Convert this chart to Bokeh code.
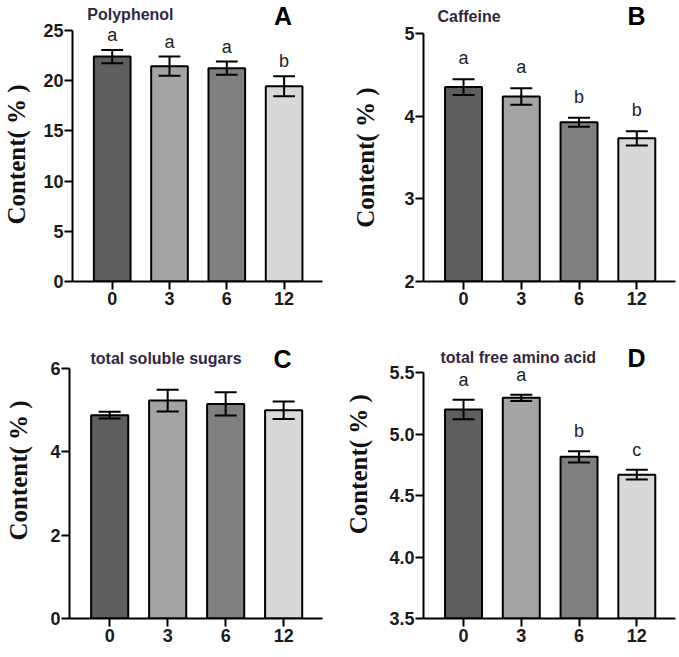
from bokeh.plotting import figure
from bokeh.models import Range1d, FixedTicker, Label, NumeralTickFormatter
from bokeh.layouts import row, column
from bokeh.embed import file_html
from bokeh.resources import INLINE
from bokeh.core.properties import value

# ---------------- data ----------------
categories = ["0", "3", "6", "12"]
bar_colors = ["#5e5e5e", "#a4a4a4", "#7f7f7f", "#d8d8d8"]

poly_mean = [22.4, 21.45, 21.25, 19.45]
poly_err = [0.65, 0.95, 0.65, 1.0]
poly_sig = ["a", "a", "a", "b"]

caf_mean = [4.35, 4.235, 3.925, 3.73]
caf_err = [0.095, 0.1, 0.055, 0.085]
caf_sig = ["a", "a", "b", "b"]

sug_mean = [4.88, 5.23, 5.15, 5.0]
sug_err = [0.08, 0.26, 0.28, 0.21]
sug_sig = ["", "", "", ""]

aa_mean = [5.2, 5.295, 4.815, 4.67]
aa_err = [0.08, 0.025, 0.045, 0.04]
aa_sig = ["a", "a", "b", "c"]

poly_ticks = [0, 5, 10, 15, 20, 25]
caf_ticks = [2, 3, 4, 5]
sug_ticks = [0, 2, 4, 6]
aa_ticks = [3.5, 4.0, 4.5, 5.0, 5.5]

TITLE_COLOR = "#30283f"
NB = "\u00a0"


def make_panel(mean, err, sig, y0, y1, yticks, fmt, title, letter,
               origin, size, frame_box, lab_standoff, ylabel, sig_gap,
               title_pos, letter_pos):
    ox, oy = origin
    W, H = size
    fl, fr, ft, fb = frame_box          # axis geometry in page pixels
    top_pad = 2                          # frame reaches nearly to the top
    frame_top = oy + top_pad
    bl, br, bb = fl - ox, ox + W - fr, oy + H - fb
    ppy = (fb - ft) / (y1 - y0)
    y_end = y1 + (ft - frame_top) / ppy
    xr = Range1d(-0.693, 3.67)
    yr = Range1d(y0, y_end)
    p = figure(width=W, height=H, x_range=xr, y_range=yr,
               output_backend="svg", toolbar_location=None,
               min_border_left=bl, min_border_right=br,
               min_border_top=top_pad, min_border_bottom=bb)
    p.outline_line_color = None
    p.xgrid.visible = False
    p.ygrid.visible = False
    p.background_fill_color = "white"
    p.border_fill_color = "white"

    xs = list(range(len(categories)))
    lo = [m - e for m, e in zip(mean, err)]
    hi = [m + e for m, e in zip(mean, err)]
    cap = 0.19

    p.vbar(x=xs, top=mean, bottom=y0, width=0.64, fill_color=bar_colors,
           line_color="black", line_width=2)
    p.segment(x0=xs, y0=lo, x1=xs, y1=hi, line_color="black", line_width=2)
    p.segment(x0=[x - cap for x in xs], y0=hi, x1=[x + cap for x in xs], y1=hi,
              line_color="black", line_width=2)
    p.segment(x0=[x - cap for x in xs], y0=lo, x1=[x + cap for x in xs], y1=lo,
              line_color="black", line_width=2)
    p.text(x=xs, y=hi, text=sig, text_align="center", text_baseline="bottom",
           y_offset=-sig_gap, text_font=value("Liberation Sans"),
           text_font_size="18px", text_color="#222222")

    for ax in (p.xaxis[0], p.yaxis[0]):
        ax.axis_line_width = 2
        ax.axis_line_color = "black"
        ax.major_tick_line_width = 2
        ax.major_tick_line_color = "black"
        ax.major_tick_out = 8
        ax.major_tick_in = 0
        ax.minor_tick_line_color = None
        ax.major_label_text_font = "Liberation Sans"
        ax.major_label_text_font_style = "bold"
        ax.major_label_text_font_size = "18px"
        ax.major_label_text_color = "#1a1a1a"
        ax.major_label_standoff = 2

    p.xaxis.ticker = FixedTicker(ticks=xs)
    p.xaxis.major_label_overrides = {i: c for i, c in enumerate(categories)}
    p.yaxis.ticker = FixedTicker(ticks=yticks)
    p.yaxis.bounds = (y0, y1)
    p.yaxis.major_label_standoff = 1
    if fmt:
        p.yaxis.formatter = NumeralTickFormatter(format=fmt)

    p.yaxis.axis_label = ylabel
    p.yaxis.axis_label_text_font = "Liberation Serif"
    p.yaxis.axis_label_text_font_style = "bold"
    p.yaxis.axis_label_text_font_size = "25px"
    p.yaxis.axis_label_text_color = "#111111"
    p.yaxis.axis_label_standoff = lab_standoff

    ppx = (fr - fl) / (xr.end - xr.start)

    def dx(px):
        return xr.start + (px - fl) / ppx

    def dy(py):
        return y1 + (ft - py) / ppy

    p.add_layout(Label(x=dx(title_pos[0]), y=dy(title_pos[1]), text=title,
                       text_align="left", text_baseline="middle",
                       text_font="Liberation Sans", text_font_style="bold",
                       text_font_size="16px", text_color=TITLE_COLOR))
    p.add_layout(Label(x=dx(letter_pos[0]), y=dy(letter_pos[1]), text=letter,
                       text_align="left", text_baseline="middle",
                       text_font="Liberation Sans", text_font_style="bold",
                       text_font_size="25px", text_color="black"))
    return p


# Bokeh's page template has no body margin: panels are placed from (0, 0)
pA = make_panel(poly_mean, poly_err, poly_sig, 0, 25, poly_ticks, None,
                "Polyphenol", "A", (0, 0), (340, 320), (69, 322, 30, 281),
                10, "Content( % )" + NB * 4, 5, (84, 14), (273, 15))
pB = make_panel(caf_mean, caf_err, caf_sig, 2, 5, caf_ticks, None,
                "Caffeine", "B", (340, 0), (338, 320), (423, 675, 33, 283),
                22, "Content( % )" + NB * 5, 11, (437, 16), (627, 16))
pC = make_panel(sug_mean, sug_err, sug_sig, 0, 6, sug_ticks, None,
                "total soluble sugars", "C", (0, 320), (340, 336), (69, 322, 368, 618),
                15, "Content( % )", 6, (90, 358), (273, 358))
pD = make_panel(aa_mean, aa_err, aa_sig, 3.5, 5.5, aa_ticks, "0.0",
                "total free amino acid", "D", (340, 320), (338, 336), (423, 675, 373, 623),
                14, NB * 2 + "Content( % )", 10, (440, 358), (627, 358))

layout = column(row(pA, pB), row(pC, pD))
open("out.html", "w").write(file_html(layout, INLINE))
